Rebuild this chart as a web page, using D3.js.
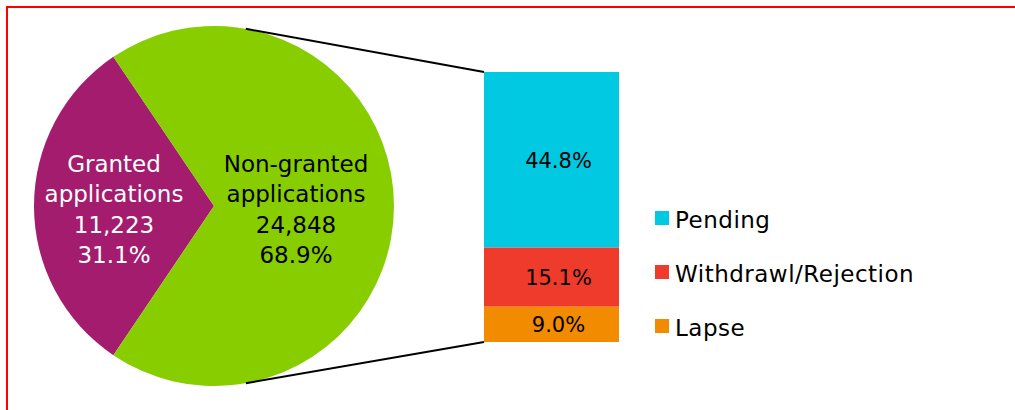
<!DOCTYPE html>
<html>
<head>
<meta charset="utf-8">
<script src="https://cdn.jsdelivr.net/npm/d3@7"></script>
<style>
  body { margin: 0; background: #fff; }
  text { font-family: "DejaVu Sans", sans-serif; }
</style>
</head>
<body>
<div id="chart"></div>
<script>
// data
var pieNames = ["Granted applications", "Non-granted applications"];
var pieLines = [["Granted", "applications"], ["Non-granted", "applications"]];
var pieCounts = [11223, 24848];
var pieColors = ["#a31c6e", "#87cd00"];

var barNames = ["Pending", "Withdrawl/Rejection", "Lapse"];
var barShares = [44.8, 15.1, 9.0];
var barColors = ["#00c9e1", "#ee3b2b", "#f38b00"];

var W = 1015, H = 410;
var svg = d3.select("#chart").append("svg")
    .attr("width", W)
    .attr("height", H);

// frame
svg.append("rect")
    .attr("x", 7).attr("y", 7)
    .attr("width", W + 10).attr("height", H + 10)
    .attr("fill", "none")
    .attr("stroke", "#ff0000")
    .attr("stroke-width", 2);

// pie
var cx = 214, cy = 206, r = 180;
var total = d3.sum(pieCounts);
var grantedAngle = pieCounts[0] / total * 2 * Math.PI;
var start = -Math.PI / 2 - grantedAngle / 2;

var pie = d3.pie().sort(null).startAngle(start).endAngle(start + 2 * Math.PI);
var arc = d3.arc().innerRadius(0).outerRadius(r);
var arcs = pie(pieCounts);

var g = svg.append("g").attr("transform", "translate(" + cx + "," + cy + ")");
g.selectAll("path")
    .data(arcs)
    .enter()
    .append("path")
    .attr("d", arc)
    .attr("fill", function(d, i) { return pieColors[i]; });

// pie labels
var fmt = d3.format(",");
var labelX = [114 - cx, 296 - cx];
var labelColor = ["#ffffff", "#000000"];
arcs.forEach(function(d, i) {
    var lines = pieLines[i].concat([fmt(pieCounts[i]), (pieCounts[i] / total * 100).toFixed(1) + "%"]);
    g.selectAll(null)
        .data(lines)
        .enter()
        .append("text")
        .attr("x", labelX[i])
        .attr("y", function(t, j) { return -34 + j * 30.3; })
        .attr("text-anchor", "middle")
        .attr("font-size", 23)
        .attr("fill", labelColor[i])
        .text(function(t) { return t; });
});

// stacked bar
var barTop = 72, barBottom = 342;
var x = d3.scaleBand().domain(["breakdown"]).range([484, 619]);
var y = d3.scaleLinear().domain([0, d3.sum(barShares)]).range([barBottom, barTop]);

var stack = [];
var acc = d3.sum(barShares);
barShares.forEach(function(v, i) {
    stack.push({ name: barNames[i], v: v, y0: acc - v, y1: acc, color: barColors[i] });
    acc -= v;
});

svg.selectAll("rect.seg")
    .data(stack)
    .enter()
    .append("rect")
    .attr("class", "seg")
    .attr("x", x("breakdown"))
    .attr("width", x.bandwidth())
    .attr("y", function(d) { return y(d.y1); })
    .attr("height", function(d) { return y(d.y0) - y(d.y1); })
    .attr("fill", function(d) { return d.color; });

svg.selectAll("text.seg")
    .data(stack)
    .enter()
    .append("text")
    .attr("class", "seg")
    .attr("x", x("breakdown") + x.bandwidth() / 2 + 7)
    .attr("y", function(d) { return (y(d.y0) + y(d.y1)) / 2 + 8; })
    .attr("text-anchor", "middle")
    .attr("font-size", 21)
    .attr("fill", "#000")
    .text(function(d) { return d.v.toFixed(1) + "%"; });

// connector lines from pie to bar
var a1 = 10.2 * Math.PI / 180;
var lines = [
    { px: cx + r * Math.sin(a1), py: cy - r * Math.cos(a1), bx: x("breakdown"), by: y(d3.sum(barShares)) },
    { px: cx + r * Math.sin(a1), py: cy + r * Math.cos(a1), bx: x("breakdown"), by: y(0) }
];
svg.selectAll("line.conn")
    .data(lines)
    .enter()
    .append("line")
    .attr("class", "conn")
    .attr("x1", function(d) { return d.px; })
    .attr("y1", function(d) { return d.py; })
    .attr("x2", function(d) { return d.bx; })
    .attr("y2", function(d) { return d.by; })
    .attr("stroke", "#000")
    .attr("stroke-width", 2);

// legend
var legend = svg.selectAll("g.legend")
    .data(barNames)
    .enter()
    .append("g")
    .attr("class", "legend")
    .attr("transform", function(d, i) { return "translate(655," + (211 + i * 54) + ")"; });
legend.append("rect")
    .attr("width", 14).attr("height", 14)
    .attr("fill", function(d, i) { return barColors[i]; });
legend.append("text")
    .attr("x", 20)
    .attr("y", 17)
    .attr("font-size", 23)
    .attr("letter-spacing", 0.5)
    .attr("fill", "#000")
    .text(function(d) { return d; });
</script>
</body>
</html>
